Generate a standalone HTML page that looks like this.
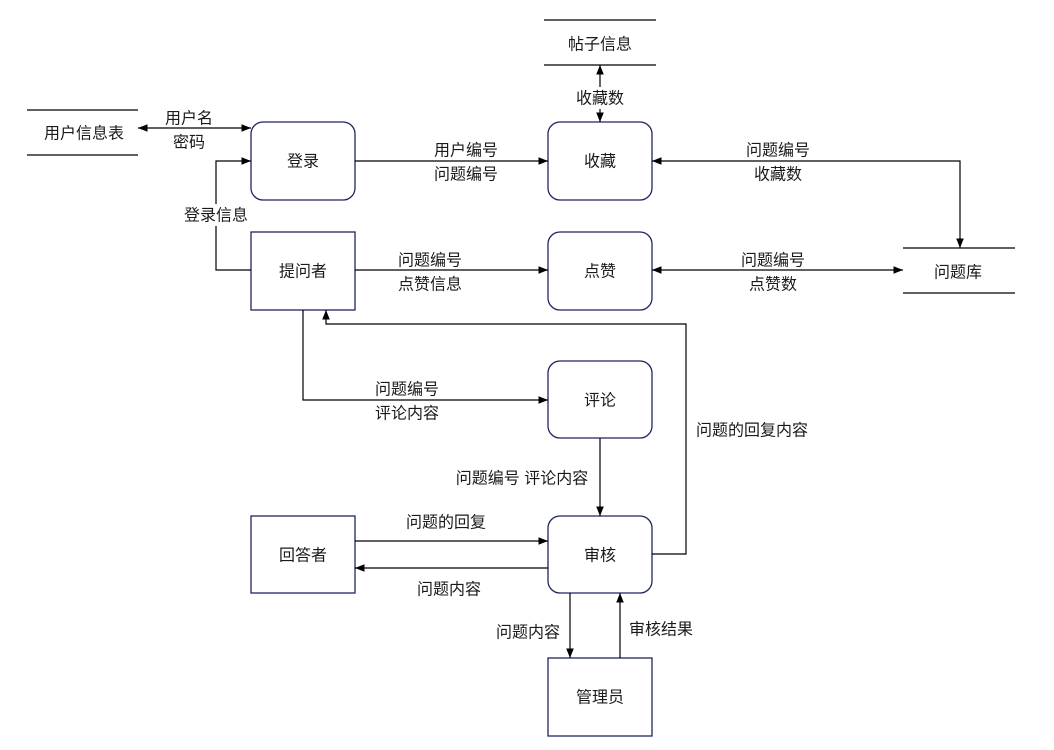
<!DOCTYPE html>
<html><head><meta charset="utf-8"><style>
body{margin:0;background:#fff;}
svg text{font-family:"Liberation Sans","Noto Sans CJK SC",sans-serif;font-size:16px;fill:#1a1a1a;text-anchor:middle;dominant-baseline:central;}
</style></head><body>
<svg width="1054" height="745" viewBox="0 0 1054 745" xmlns="http://www.w3.org/2000/svg">
<defs><marker id="a" viewBox="0 0 10 10" refX="10" refY="5" markerWidth="8" markerHeight="8" orient="auto-start-reverse"><path d="M0,1 L10,5 L0,9 z" fill="#000"/></marker></defs>
<g stroke="#000" stroke-width="1.2" fill="none">
<line x1="27" y1="110" x2="138" y2="110"/><line x1="27" y1="155" x2="138" y2="155"/>
<line x1="544" y1="20" x2="656" y2="20"/><line x1="544" y1="65" x2="656" y2="65"/>
<line x1="903" y1="248" x2="1015" y2="248"/><line x1="903" y1="293" x2="1015" y2="293"/>
</g>
<g stroke="#1f2560" stroke-width="1.3" fill="#fff">
<rect x="251" y="122" width="104" height="78" rx="12"/>
<rect x="548" y="122" width="104" height="78" rx="12"/>
<rect x="251" y="232" width="104" height="78"/>
<rect x="548" y="232" width="104" height="78" rx="12"/>
<rect x="548" y="361" width="104" height="77" rx="12"/>
<rect x="548" y="516" width="104" height="77" rx="12"/>
<rect x="251" y="516" width="104" height="77"/>
<rect x="548" y="658" width="104" height="78"/>
</g>
<g stroke="#000" stroke-width="1.2" fill="none">
<line x1="138" y1="128" x2="251" y2="128" marker-start="url(#a)" marker-end="url(#a)"/>
<polyline points="251,270 216,270 216,161 251,161" marker-end="url(#a)"/>
<line x1="355" y1="161" x2="548" y2="161" marker-end="url(#a)"/>
<line x1="600" y1="65" x2="600" y2="122" marker-start="url(#a)" marker-end="url(#a)"/>
<polyline points="652,161 960,161 960,248" marker-start="url(#a)" marker-end="url(#a)"/>
<line x1="355" y1="270" x2="548" y2="270" marker-end="url(#a)"/>
<line x1="652" y1="270" x2="903" y2="270" marker-start="url(#a)" marker-end="url(#a)"/>
<polyline points="303,310 303,400 548,400" marker-end="url(#a)"/>
<line x1="600" y1="438" x2="600" y2="516" marker-end="url(#a)"/>
<polyline points="652,554 686,554 686,324 326,324 326,310" marker-end="url(#a)"/>
<line x1="355" y1="541" x2="548" y2="541" marker-end="url(#a)"/>
<line x1="548" y1="568" x2="355" y2="568" marker-end="url(#a)"/>
<line x1="570" y1="593" x2="570" y2="658" marker-end="url(#a)"/>
<line x1="620" y1="658" x2="620" y2="593" marker-end="url(#a)"/>
</g>
<g fill="#fff">
<rect x="178" y="204" width="76" height="22"/>
<rect x="570" y="87" width="60" height="22"/>
</g>
<text x="84" y="134">用户信息表</text>
<text x="600" y="45">帖子信息</text>
<text x="958" y="273">问题库</text>
<text x="303" y="162">登录</text>
<text x="600" y="162">收藏</text>
<text x="303" y="272">提问者</text>
<text x="600" y="272">点赞</text>
<text x="600" y="401">评论</text>
<text x="600" y="556">审核</text>
<text x="303" y="556">回答者</text>
<text x="600" y="698">管理员</text>
<text x="189" y="119">用户名</text>
<text x="189" y="143">密码</text>
<text x="216" y="216">登录信息</text>
<text x="466" y="151">用户编号</text>
<text x="466" y="175">问题编号</text>
<text x="600" y="99">收藏数</text>
<text x="778" y="151">问题编号</text>
<text x="778" y="175">收藏数</text>
<text x="430" y="261">问题编号</text>
<text x="430" y="285">点赞信息</text>
<text x="773" y="261">问题编号</text>
<text x="773" y="285">点赞数</text>
<text x="407" y="390">问题编号</text>
<text x="407" y="414">评论内容</text>
<text x="522" y="479">问题编号 评论内容</text>
<text x="752" y="431">问题的回复内容</text>
<text x="446" y="523">问题的回复</text>
<text x="449" y="590">问题内容</text>
<text x="528" y="633">问题内容</text>
<text x="661" y="630">审核结果</text>
</svg>
</body></html>
